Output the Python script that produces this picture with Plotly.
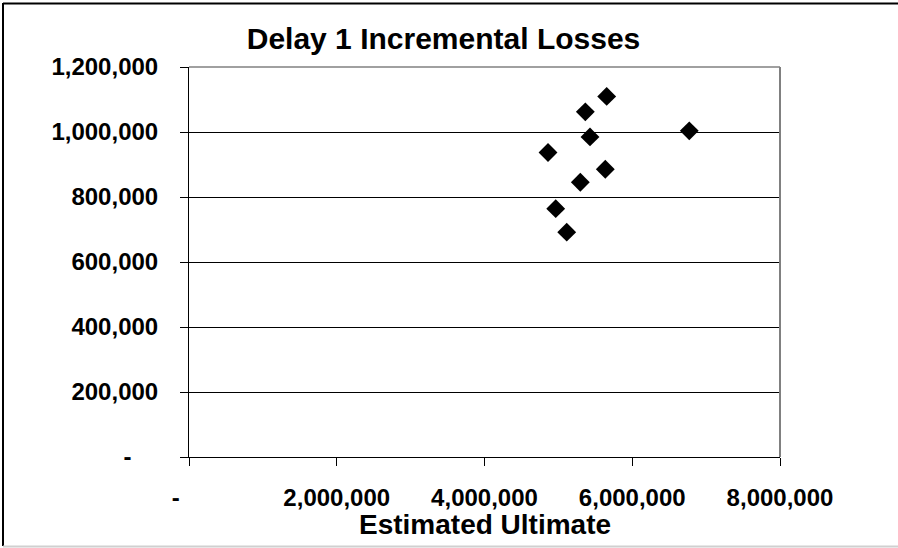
"""
Delay 1 incremental losses vs. estimated ultimate — Excel-style scatter.
"""

import plotly.graph_objects as go

# ── Data ─────────────────────────────────────────────────────────────────────
estimated_ultimate = [5654000, 5365000, 6772000, 5428000, 4860000,
                      5635000, 5297000, 4964000, 5113000]
incremental_losses = [1109600, 1062100, 1003500, 985000, 936900,
                      885300, 845300, 764100, 691900]

x_tickvals = [0, 2000000, 4000000, 6000000, 8000000]
x_ticktext = ["-\u00a0\u00a0\u00a0\u00a0", "2,000,000", "4,000,000", "6,000,000", "8,000,000"]
y_tickvals = [0, 200000, 400000, 600000, 800000, 1000000, 1200000]
y_ticktext = ["-\u00a0\u00a0\u00a0\u00a0", "200,000", "400,000", "600,000",
              "800,000", "1,000,000", "1,200,000"]

FONT = "Arial, 'Liberation Sans', sans-serif"
W, H = 898, 548

fig = go.Figure()
fig.add_trace(go.Scatter(
    x=estimated_ultimate, y=incremental_losses, mode="markers",
    marker=dict(symbol="diamond", size=14.5, color="black", line=dict(width=0)),
    showlegend=False, hoverinfo="x+y"))

axis_common = dict(
    showline=True, linecolor="black", linewidth=1,
    ticks="outside", ticklen=8, tickcolor="black", tickwidth=1,
    tickfont=dict(family=FONT, size=24, color="black", weight="bold"),
    zeroline=False,
)

fig.update_xaxes(
    range=[0, 8000000], tickvals=x_tickvals, ticktext=x_ticktext,
    showgrid=False, ticklabelstandoff=11, **axis_common)
fig.update_yaxes(
    range=[0, 1200000], tickvals=y_tickvals, ticktext=y_ticktext,
    showgrid=True, gridcolor="black", gridwidth=1, ticklabelstandoff=17,
    **axis_common)

# plot-area border (top/right in gray, as in the Excel chart)
fig.add_shape(type="line", xref="x domain", yref="y domain",
              x0=1, x1=1, y0=0, y1=1, line=dict(color="#808080", width=2))
fig.add_shape(type="line", xref="x domain", yref="y domain",
              x0=0, x1=1, y0=1, y1=1, line=dict(color="#808080", width=1.5))

# outer chart frame
L, R, T, B = 189, 118, 67, 91
pw, ph = W - L - R, H - T - B
px_x = lambda p: (p - L) / pw
px_y = lambda p: (H - B - p) / ph
fig.add_shape(type="line", xref="paper", yref="paper",
              x0=px_x(3), x1=px_x(3), y0=px_y(3), y1=px_y(546),
              line=dict(color="black", width=2))
fig.add_shape(type="line", xref="paper", yref="paper",
              x0=px_x(3), x1=px_x(900), y0=px_y(3.5), y1=px_y(3.5),
              line=dict(color="black", width=2))
fig.add_shape(type="line", xref="paper", yref="paper",
              x0=px_x(3), x1=px_x(900), y0=px_y(546.5), y1=px_y(546.5),
              line=dict(color="#d0d0d0", width=2))

# x-axis title, placed as in the original chart
fig.add_annotation(text="<b>Estimated Ultimate</b>", xref="x domain", yref="paper",
                   x=0.5, y=px_y(524.5), xanchor="center", yanchor="middle",
                   showarrow=False, font=dict(family=FONT, size=28, color="black"))

fig.update_layout(
    width=W, height=H,
    margin=dict(l=L, r=R, t=T, b=B, autoexpand=False),
    paper_bgcolor="white", plot_bgcolor="white",
    title=dict(text="<b>Delay 1 Incremental Losses</b>",
               x=443.5 / W, xref="container", xanchor="center",
               y=1 - 38.5 / H, yref="container", yanchor="middle",
               font=dict(family=FONT, size=30, color="black")),
    font=dict(family=FONT, color="black"),
)

# page body has an 8px default margin; drop it so the figure fills the window
fig.write_html("out.html", config={"displayModeBar": False},
               post_script="document.body.style.margin='0';")
